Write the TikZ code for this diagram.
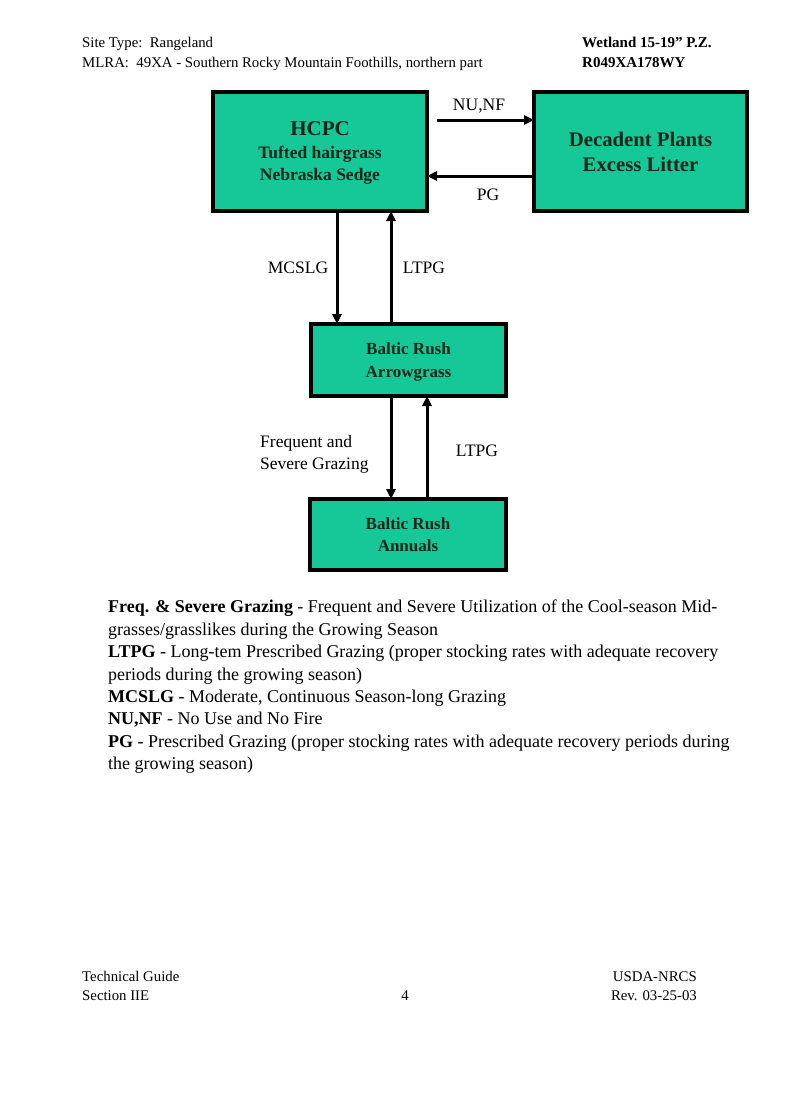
\documentclass[tikz,border=0pt]{standalone}
\usepackage{fontspec}
\setmainfont{Liberation Serif}
\usetikzlibrary{arrows.meta}
\definecolor{boxfill}{RGB}{22,200,152}
\definecolor{boxtext}{RGB}{12,38,26}
\tikzset{
  statebox/.style={draw=black, line width=4pt, fill=boxfill, text=boxtext, align=center, inner sep=0pt, outer sep=0pt, text depth=0pt},
  arr/.style={line width=3pt, -{Triangle[length=10pt,width=9pt]}},
  lbl/.style={font=\fontsize{17.5}{22}\selectfont, inner sep=0pt},
  hdr/.style={font=\fontsize{14.8}{17}\selectfont, inner sep=0pt, anchor=base west},
  hdrb/.style={font=\fontsize{15}{17}\selectfont\bfseries, inner sep=0pt, anchor=base west},
  leg/.style={font=\fontsize{18}{22}\selectfont, inner sep=0pt, anchor=base west},
}
\begin{document}
\begin{tikzpicture}[x=1pt,y=-1pt]
\useasboundingbox[fill=white] (0,0) rectangle (800,1108);
% header
\node[hdr] (h1) at (82,48) {Site Type:\ \ Rangeland};
\node[hdr] (h2) at (82,67) {MLRA:\ \ 49XA - Southern Rocky Mountain Foothills, northern part};
\node[hdrb] (h3) at (582,48) {Wetland 15-19'' P.Z.};
\node[hdrb] (h4) at (582,67) {R049XA178WY};
% boxes
\node[statebox, minimum width=214, minimum height=119, font=\fontsize{17.5}{22.5}\selectfont\bfseries] (hcpc) at (320,151.5)
  {{\fontsize{21}{23}\selectfont HCPC}\\Tufted hairgrass\\Nebraska Sedge};
\node[statebox, minimum width=213, minimum height=119, font=\fontsize{20.7}{25}\selectfont\bfseries] (dec) at (640.5,151.5)
  {Decadent Plants\\Excess Litter};
\node[statebox, minimum width=195, minimum height=72, font=\fontsize{17}{23}\selectfont\bfseries] (arw) at (408.5,360)
  {Baltic Rush\\Arrowgrass};
\node[statebox, minimum width=196, minimum height=71, font=\fontsize{17}{22}\selectfont\bfseries] (ann) at (408,534.5)
  {Baltic Rush\\Annuals};
% connectors
\coordinate (xa) at (337,0);
\coordinate (xb) at (391,0);
\coordinate (xc) at (427,0);
\coordinate (ya) at (0,120);
\coordinate (yb) at (0,176);
\coordinate (nustart) at (437,120);
\draw[arr] (nustart) -- (dec.west |- ya);
\draw[arr] (dec.west |- yb) -- (hcpc.east |- yb);
\draw[arr] (hcpc.south -| xa) -- (arw.north -| xa);
\draw[arr] (arw.north -| xb) -- (hcpc.south -| xb);
\draw[arr] (arw.south -| xb) -- (ann.north -| xb);
\draw[arr] (ann.north -| xc) -- (arw.south -| xc);
% connector labels
\node[lbl] (l1) at (479,106) {NU,NF};
\node[lbl] (l2) at (488,195) {PG};
\node[lbl] (l3) at (298,268) {MCSLG};
\node[lbl] (l4) at (424,268) {LTPG};
\node[lbl, anchor=base west] (l5) at (260,447) {Frequent and};
\node[lbl, anchor=base west] (l6) at (260,469) {Severe Grazing};
\node[lbl] (l7) at (477,451) {LTPG};
% legend
\node[leg] (g1) at (108,612) {\textbf{Freq. \& Severe Grazing} - Frequent and Severe Utilization of the Cool-season Mid-};
\node[leg] (g2) at (108,635) {grasses/grasslikes during the Growing Season};
\node[leg] (g3) at (108,657) {\textbf{LTPG} - Long-tem Prescribed Grazing (proper stocking rates with adequate recovery};
\node[leg] (g4) at (108,680) {periods during the growing season)};
\node[leg] (g5) at (108,702) {\textbf{MCSLG} - Moderate, Continuous Season-long Grazing};
\node[leg] (g6) at (108,724) {\textbf{NU,NF} - No Use and No Fire};
\node[leg] (g7) at (108,747) {\textbf{PG} - Prescribed Grazing (proper stocking rates with adequate recovery periods during};
\node[leg] (g8) at (108,769) {the growing season)};
% footer
\node[hdr] (f1) at (82,981) {Technical Guide};
\node[hdr] (f2) at (82,1000) {Section IIE};
\node[hdr, anchor=base] (f3) at (405,1000) {4};
\node[hdr, anchor=base east] (f4) at (697,981) {USDA-NRCS};
\node[hdr, anchor=base east] (f5) at (697,1000) {Rev. 03-25-03};
\end{tikzpicture}
\end{document}
